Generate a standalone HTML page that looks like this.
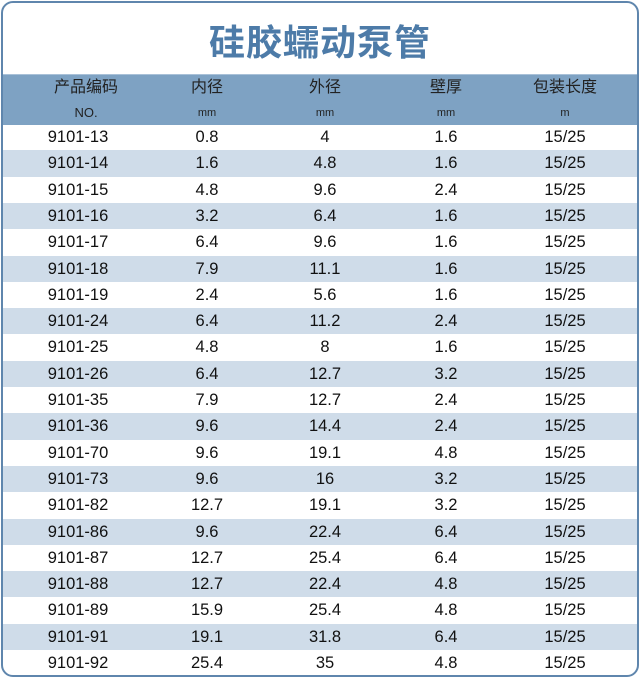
<!DOCTYPE html>
<html><head><meta charset="utf-8"><style>
html,body{margin:0;padding:0;background:#fff;}
#w{position:absolute;left:1px;top:1px;width:634px;height:672px;border:2px solid #5f86ad;border-radius:12px;overflow:hidden;background:#fff;}
h1{position:absolute;left:0;right:0;top:11px;margin:0;text-align:center;font:bold 36px "Liberation Sans","Noto Sans CJK SC",sans-serif;color:#4d7ba8;letter-spacing:1px;}
#hd{position:absolute;left:0;right:0;top:71px;height:50px;background:#7ea2c3;border-top:1px solid #a9c1d8;}
.r{position:absolute;left:0;right:0;height:26.3px;font:16.5px "Liberation Sans","Noto Sans CJK SC",sans-serif;color:#111;}
.r.a{background:#cfdce9;}
.c{position:absolute;top:0;width:120px;margin-left:-60px;text-align:center;line-height:26.3px;}
.h1 .c{font-size:16px;line-height:26px;color:#222;}
.h2 .c{font-size:11px;line-height:24px;color:#222;}
.h2 .c.n{font-size:13px;}
</style></head><body><div id="w">
<h1>硅胶蠕动泵管</h1>
<div id="hd"></div>
<div class="r h1" style="top:72px"><div class="c" style="left:83px">产品编码</div><div class="c" style="left:204px">内径</div><div class="c" style="left:322px">外径</div><div class="c" style="left:443px">壁厚</div><div class="c" style="left:562px">包装长度</div></div>
<div class="r h2" style="top:98px"><div class="c n" style="left:83px">NO.</div><div class="c" style="left:204px">mm</div><div class="c" style="left:322px">mm</div><div class="c" style="left:443px">mm</div><div class="c" style="left:562px">m</div></div>
<div id="rows"></div>
</div>
<script>
var d=[["9101-13","0.8","4","1.6"],["9101-14","1.6","4.8","1.6"],["9101-15","4.8","9.6","2.4"],["9101-16","3.2","6.4","1.6"],["9101-17","6.4","9.6","1.6"],["9101-18","7.9","11.1","1.6"],["9101-19","2.4","5.6","1.6"],["9101-24","6.4","11.2","2.4"],["9101-25","4.8","8","1.6"],["9101-26","6.4","12.7","3.2"],["9101-35","7.9","12.7","2.4"],["9101-36","9.6","14.4","2.4"],["9101-70","9.6","19.1","4.8"],["9101-73","9.6","16","3.2"],["9101-82","12.7","19.1","3.2"],["9101-86","9.6","22.4","6.4"],["9101-87","12.7","25.4","6.4"],["9101-88","12.7","22.4","4.8"],["9101-89","15.9","25.4","4.8"],["9101-91","19.1","31.8","6.4"],["9101-92","25.4","35","4.8"]];
var x=[75,204,322,443,562],h="";
d.forEach(function(r,i){r.push("15/25");h+='<div class="r'+(i%2?' a':'')+'" style="top:'+(121+i*26.3)+'px">';r.forEach(function(v,j){h+='<div class="c" style="left:'+x[j]+'px">'+v+'</div>';});h+='</div>';});
document.getElementById('rows').innerHTML=h;
</script>
</body></html>
